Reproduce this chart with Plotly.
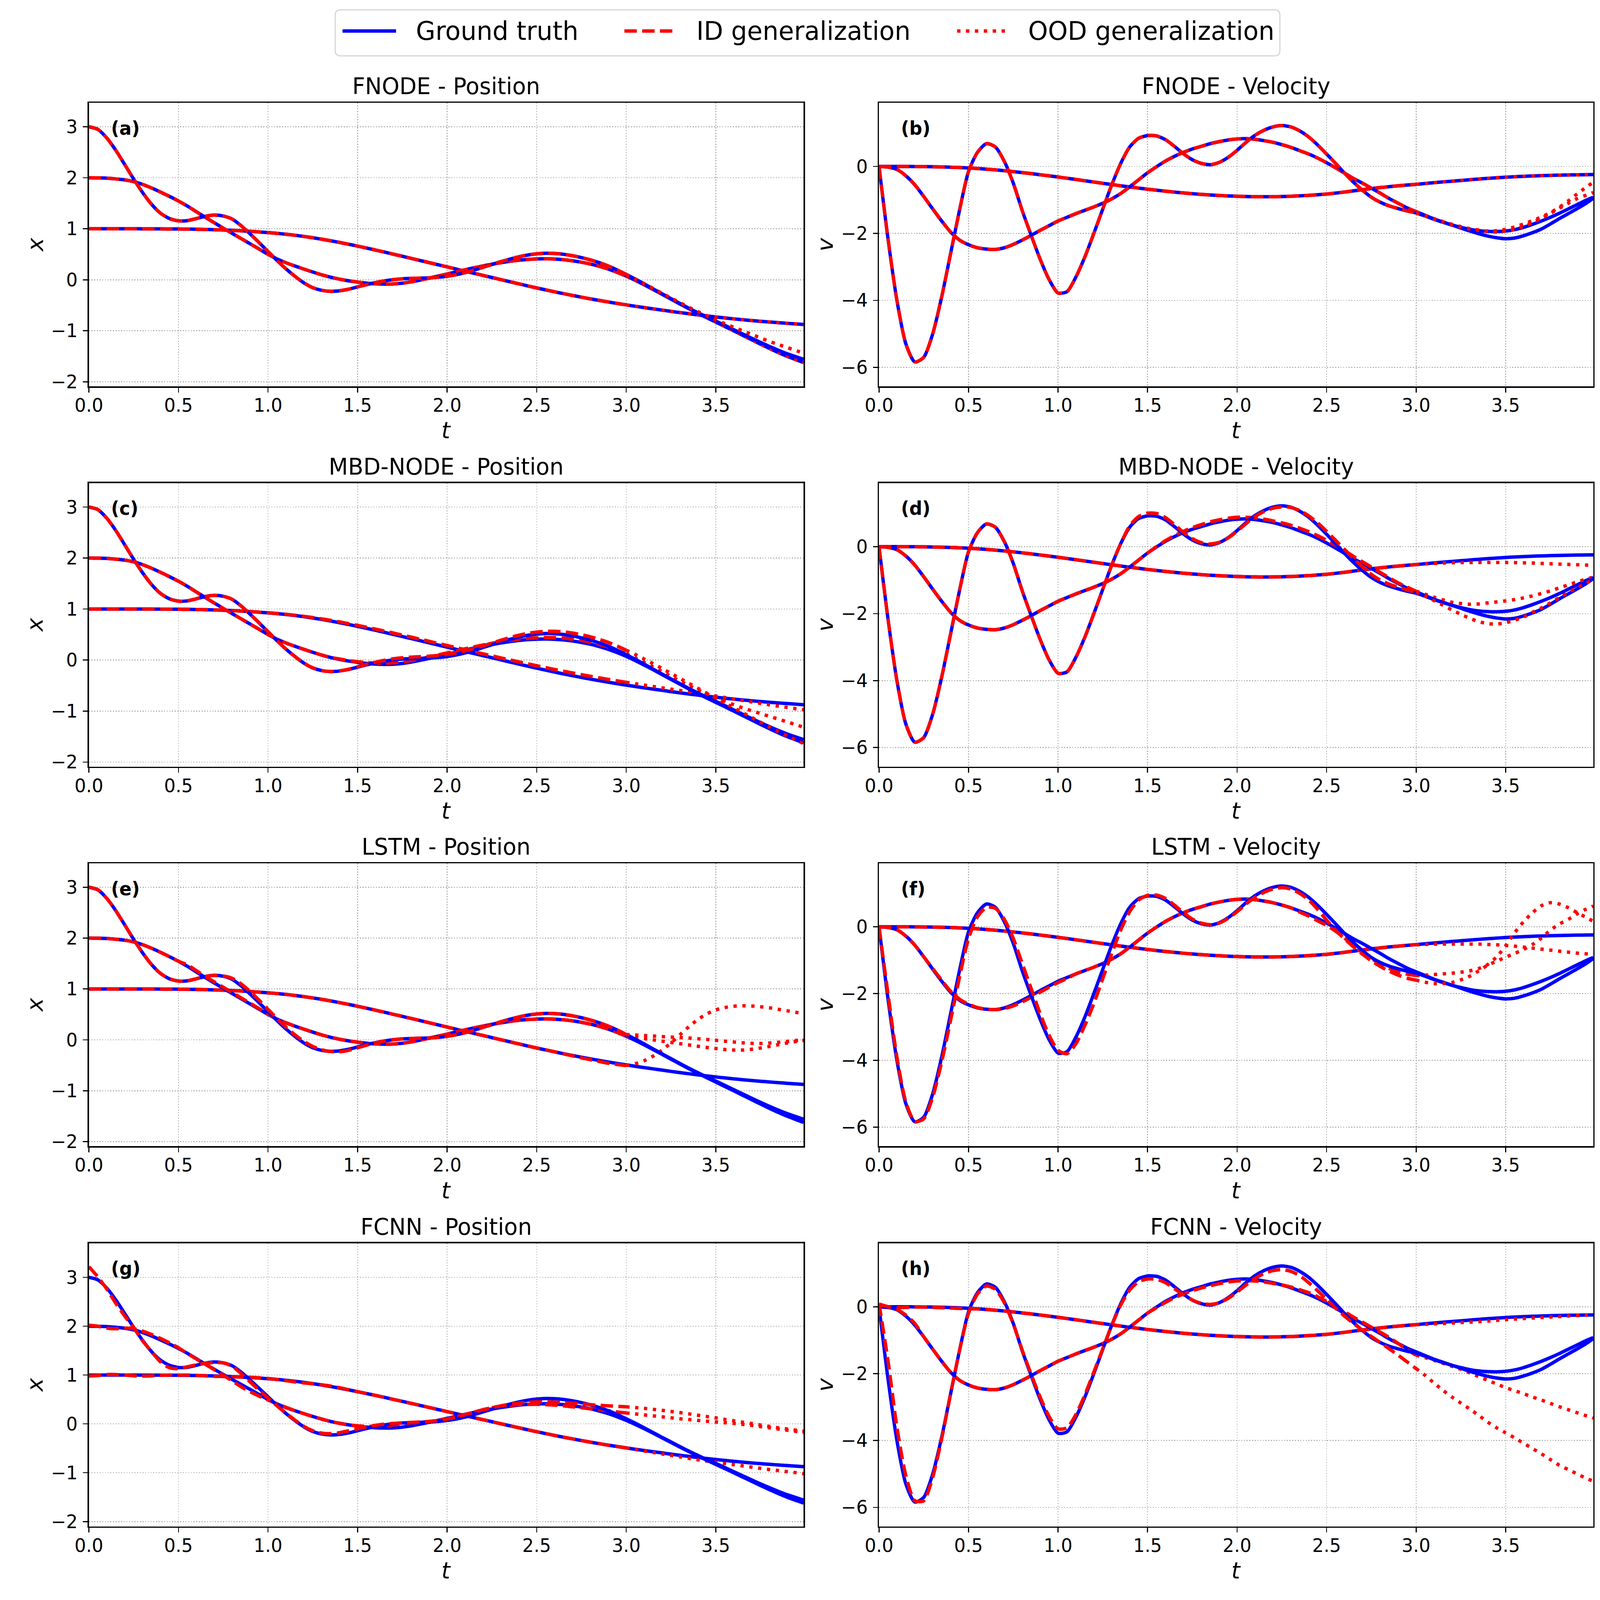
import plotly.graph_objects as go

# ---------------- data ----------------
T = [0.00, 0.05, 0.10, 0.15, 0.20, 0.25, 0.30, 0.35, 0.40, 0.45,
     0.50, 0.55, 0.60, 0.65, 0.70, 0.75, 0.80, 0.85, 0.90, 0.95,
     1.00, 1.05, 1.10, 1.15, 1.20, 1.25, 1.30, 1.35, 1.40, 1.45,
     1.50, 1.55, 1.60, 1.65, 1.70, 1.75, 1.80, 1.85, 1.90, 1.95,
     2.00, 2.05, 2.10, 2.15, 2.20, 2.25, 2.30, 2.35, 2.40, 2.45,
     2.50, 2.55, 2.60, 2.65, 2.70, 2.75, 2.80, 2.85, 2.90, 2.95,
     3.00, 3.05, 3.10, 3.15, 3.20, 3.25, 3.30, 3.35, 3.40, 3.45,
     3.50, 3.55, 3.60, 3.65, 3.70, 3.75, 3.80, 3.85, 3.90, 3.95,
     3.99]

# ground truth positions (three trajectories)
gt_x1 = [1.000, 1.000, 1.000, 1.000, 1.000, 1.000, 0.999, 0.999, 0.998, 0.997,
         0.996, 0.994, 0.991, 0.987, 0.982, 0.976, 0.969, 0.960, 0.950, 0.938,
         0.925, 0.910, 0.893, 0.873, 0.850, 0.824, 0.796, 0.765, 0.732, 0.697,
         0.660, 0.622, 0.583, 0.543, 0.502, 0.461, 0.420, 0.378, 0.336, 0.294,
         0.252, 0.210, 0.168, 0.127, 0.086, 0.045, 0.003, -0.038, -0.079, -0.120,
         -0.160, -0.198, -0.236, -0.272, -0.307, -0.341, -0.374, -0.405, -0.435, -0.464,
         -0.492, -0.519, -0.545, -0.570, -0.594, -0.620, -0.643, -0.666, -0.688, -0.709,
         -0.729, -0.748, -0.766, -0.783, -0.799, -0.814, -0.828, -0.841, -0.854, -0.866,
         -0.876]
gt_x2 = [2.000, 1.998, 1.992, 1.978, 1.958, 1.925, 1.870, 1.800, 1.720, 1.635,
         1.545, 1.445, 1.335, 1.225, 1.118, 1.013, 0.910, 0.808, 0.706, 0.603,
         0.500, 0.410, 0.335, 0.270, 0.210, 0.152, 0.097, 0.050, 0.012, -0.020,
         -0.045, -0.066, -0.080, -0.086, -0.082, -0.066, -0.040, -0.005, 0.033, 0.073,
         0.113, 0.155, 0.196, 0.235, 0.271, 0.305, 0.335, 0.362, 0.384, 0.400,
         0.409, 0.412, 0.407, 0.394, 0.373, 0.345, 0.309, 0.264, 0.210, 0.145,
         0.072, -0.010, -0.098, -0.190, -0.285, -0.380, -0.475, -0.568, -0.658, -0.745,
         -0.830, -0.915, -1.000, -1.088, -1.175, -1.262, -1.347, -1.428, -1.503, -1.570,
         -1.622]
gt_x3 = [3.000, 2.950, 2.780, 2.540, 2.260, 1.975, 1.710, 1.480, 1.305, 1.200,
         1.155, 1.160, 1.200, 1.245, 1.268, 1.250, 1.190, 1.060, 0.900, 0.730,
         0.555, 0.380, 0.215, 0.070, -0.060, -0.155, -0.207, -0.226, -0.215, -0.185,
         -0.140, -0.095, -0.055, -0.022, 0.003, 0.018, 0.027, 0.032, 0.038, 0.050,
         0.070, 0.100, 0.140, 0.190, 0.245, 0.300, 0.355, 0.405, 0.450, 0.485,
         0.508, 0.520, 0.516, 0.500, 0.472, 0.435, 0.390, 0.335, 0.270, 0.192,
         0.105, 0.015, -0.080, -0.178, -0.275, -0.370, -0.465, -0.558, -0.645, -0.730,
         -0.810, -0.893, -0.978, -1.063, -1.147, -1.228, -1.307, -1.382, -1.452, -1.512,
         -1.560]

# ground truth velocities
gt_v1 = [0.000, 0.000, 0.000, -0.001, -0.003, -0.006, -0.010, -0.016, -0.024, -0.034,
         -0.047, -0.063, -0.082, -0.104, -0.128, -0.155, -0.184, -0.215, -0.248, -0.282,
         -0.317, -0.353, -0.390, -0.428, -0.466, -0.504, -0.541, -0.578, -0.613, -0.647,
         -0.680, -0.711, -0.740, -0.767, -0.792, -0.815, -0.835, -0.853, -0.868, -0.881,
         -0.891, -0.899, -0.904, -0.906, -0.904, -0.899, -0.891, -0.879, -0.864, -0.846,
         -0.825, -0.797, -0.765, -0.730, -0.695, -0.662, -0.632, -0.604, -0.579, -0.556,
         -0.535, -0.510, -0.486, -0.463, -0.441, -0.420, -0.398, -0.377, -0.357, -0.339,
         -0.322, -0.308, -0.296, -0.285, -0.276, -0.268, -0.262, -0.256, -0.251, -0.247,
         -0.244]
gt_v2 = [0.00, -0.02, -0.09, -0.28, -0.55, -0.90, -1.27, -1.63, -1.96, -2.20,
         -2.34, -2.43, -2.47, -2.48, -2.43, -2.33, -2.20, -2.06, -1.91, -1.77,
         -1.63, -1.52, -1.41, -1.31, -1.21, -1.10, -0.97, -0.81, -0.61, -0.40,
         -0.19, -0.01, 0.16, 0.30, 0.42, 0.52, 0.60, 0.68, 0.74, 0.79,
         0.82, 0.83, 0.81, 0.77, 0.72, 0.65, 0.57, 0.47, 0.37, 0.25,
         0.11, -0.04, -0.20, -0.36, -0.50, -0.65, -0.80, -0.96, -1.10, -1.24,
         -1.35, -1.46, -1.57, -1.66, -1.75, -1.82, -1.88, -1.92, -1.94, -1.945,
         -1.93, -1.89, -1.82, -1.73, -1.63, -1.52, -1.40, -1.27, -1.14, -1.01,
         -0.92]
gt_v3 = [0.00, -2.15, -4.00, -5.30, -5.84, -5.70, -5.00, -3.90, -2.60, -1.30,
         -0.15, 0.42, 0.68, 0.58, 0.15, -0.50, -1.32, -2.06, -2.77, -3.38,
         -3.78, -3.74, -3.30, -2.70, -2.00, -1.27, -0.55, 0.09, 0.58, 0.84,
         0.92, 0.91, 0.80, 0.60, 0.38, 0.20, 0.09, 0.05, 0.12, 0.27,
         0.48, 0.72, 0.93, 1.08, 1.18, 1.22, 1.18, 1.06, 0.88, 0.64,
         0.37, 0.09, -0.20, -0.47, -0.71, -0.92, -1.07, -1.18, -1.26, -1.33,
         -1.39, -1.48, -1.58, -1.67, -1.75, -1.84, -1.93, -2.01, -2.08, -2.13,
         -2.16, -2.14, -2.07, -1.98, -1.87, -1.72, -1.56, -1.41, -1.26, -1.10,
         -0.95]

N_ID = 61  # ID generalization covers t = 0 .. 3.0, OOD covers t = 3.0 .. 3.99


def splice(base, start, values):
    out = list(base)
    out[start:start + len(values)] = values
    return out


# ---- FNODE predictions
fnode_x1_id, fnode_x1_ood = gt_x1[:N_ID], gt_x1[N_ID - 1:]
fnode_x2_id, fnode_x2_ood = gt_x2[:N_ID], gt_x2[N_ID - 1:]
fnode_x3_id = gt_x3[:N_ID]
fnode_x3_ood = [0.105, 0.018, -0.075, -0.170, -0.265, -0.358, -0.450, -0.540, -0.625, -0.705,
                -0.790, -0.860, -0.930, -1.000, -1.070, -1.140, -1.210, -1.270, -1.330, -1.390,
                -1.440]
fnode_v1_id, fnode_v1_ood = gt_v1[:N_ID], gt_v1[N_ID - 1:]
fnode_v2_id = gt_v2[:N_ID]
fnode_v2_ood = [-1.35, -1.46, -1.56, -1.65, -1.73, -1.80, -1.86, -1.90, -1.94, -1.96,
                -1.93, -1.88, -1.79, -1.68, -1.55, -1.40, -1.25, -1.10, -0.96, -0.86,
                -0.78]
fnode_v3_id = gt_v3[:N_ID]
fnode_v3_ood = [-1.39, -1.48, -1.57, -1.66, -1.74, -1.81, -1.87, -1.91, -1.93, -1.92,
                -1.88, -1.81, -1.72, -1.62, -1.51, -1.38, -1.22, -1.03, -0.82, -0.62,
                -0.47]

# ---- MBD-NODE predictions
mbd_x1_id = splice(gt_x1[:N_ID], 20, [
    0.927, 0.913, 0.897, 0.878, 0.857, 0.833, 0.807, 0.778, 0.747, 0.714,
    0.679, 0.643, 0.606, 0.568, 0.529, 0.489, 0.449, 0.408, 0.367, 0.326,
    0.285, 0.244, 0.203, 0.162, 0.122, 0.082, 0.042, 0.003, -0.036, -0.074,
    -0.112, -0.149, -0.185, -0.220, -0.254, -0.287, -0.319, -0.350, -0.380, -0.409,
    -0.437])
mbd_x1_ood = [-0.437, -0.465, -0.492, -0.519, -0.545, -0.571, -0.597, -0.623, -0.650, -0.678,
              -0.706, -0.735, -0.764, -0.793, -0.822, -0.850, -0.878, -0.905, -0.930, -0.955,
              -0.975]
mbd_x2_id = splice(gt_x2[:N_ID], 28, [
    0.020, -0.010, -0.033, -0.050, -0.060, -0.062, -0.055, -0.038, -0.012, 0.022,
    0.060, 0.100, 0.140, 0.180, 0.220, 0.258, 0.294, 0.328, 0.358, 0.385,
    0.408, 0.425, 0.436, 0.441, 0.439, 0.429, 0.411, 0.385, 0.351, 0.308,
    0.256, 0.193, 0.120])
mbd_x2_ood = [0.120, 0.040, -0.045, -0.135, -0.228, -0.320, -0.412, -0.500, -0.585, -0.665,
              -0.740, -0.810, -0.875, -0.937, -0.995, -1.050, -1.105, -1.160, -1.215, -1.270,
              -1.320]
mbd_x3_id = splice(gt_x3[:N_ID], 28, [
    -0.212, -0.180, -0.133, -0.085, -0.042, -0.005, 0.025, 0.045, 0.057, 0.065,
    0.075, 0.090, 0.112, 0.142, 0.180, 0.226, 0.278, 0.333, 0.388, 0.440,
    0.485, 0.522, 0.548, 0.562, 0.563, 0.552, 0.530, 0.498, 0.456, 0.405,
    0.345, 0.273, 0.192])
mbd_x3_ood = [0.192, 0.110, 0.022, -0.070, -0.165, -0.262, -0.360, -0.458, -0.555, -0.650,
              -0.745, -0.840, -0.935, -1.030, -1.125, -1.220, -1.315, -1.405, -1.490, -1.570,
              -1.640]
mbd_v1_id = gt_v1[:N_ID]
mbd_v1_ood = [-0.535, -0.515, -0.500, -0.490, -0.480, -0.475, -0.472, -0.470, -0.470, -0.470,
              -0.472, -0.476, -0.482, -0.490, -0.500, -0.510, -0.520, -0.530, -0.540, -0.550,
              -0.560]
mbd_v2_id = splice(gt_v2[:N_ID], 31, [
    0.00, 0.18, 0.33, 0.46, 0.57, 0.66, 0.74, 0.80, 0.85, 0.88,
    0.88, 0.86, 0.82, 0.77, 0.71, 0.64, 0.55, 0.45, 0.33, 0.19,
    0.04, -0.12, -0.29, -0.45, -0.61, -0.77, -0.93, -1.08, -1.21, -1.33])
mbd_v2_ood = [-1.33, -1.42, -1.51, -1.59, -1.66, -1.70, -1.72, -1.71, -1.68, -1.65,
              -1.62, -1.58, -1.53, -1.47, -1.40, -1.32, -1.23, -1.14, -1.05, -0.97,
              -0.91]
mbd_v3_id = splice(gt_v3[:N_ID], 28, [
    0.62, 0.90, 1.00, 0.99, 0.87, 0.66, 0.43, 0.24, 0.12, 0.08,
    0.13, 0.26, 0.46, 0.69, 0.90, 1.05, 1.15, 1.19, 1.17, 1.08,
    0.92, 0.71, 0.46, 0.19, -0.08, -0.35, -0.60, -0.83, -1.00, -1.12,
    -1.21, -1.29, -1.36])
mbd_v3_ood = [-1.36, -1.48, -1.61, -1.75, -1.89, -2.02, -2.14, -2.24, -2.30, -2.31,
              -2.27, -2.20, -2.10, -1.96, -1.83, -1.68, -1.52, -1.37, -1.22, -1.09,
              -0.98]

# ---- LSTM predictions
lstm_x1_id = splice(gt_x1[:N_ID], 51, [-0.195, -0.235, -0.275, -0.315, -0.355, -0.390,
                                        -0.425, -0.460, -0.485, -0.505])
lstm_x1_ood = [-0.505, -0.470, -0.410, -0.320, -0.200, -0.060, 0.100, 0.260, 0.400, 0.510,
               0.590, 0.635, 0.660, 0.670, 0.665, 0.650, 0.630, 0.600, 0.570, 0.540,
               0.510]
lstm_x2_id = splice(gt_x2[:N_ID], 11, [1.475, 1.360, 1.245, 1.140, 1.035, 0.930, 0.825,
                                        0.720, 0.615, 0.510])
lstm_x2_ood = [0.072, 0.050, 0.025, 0.000, -0.025, -0.050, -0.075, -0.100, -0.125, -0.150,
               -0.170, -0.190, -0.200, -0.200, -0.185, -0.160, -0.130, -0.095, -0.060, -0.030,
               -0.010]
lstm_x3_id = splice(gt_x3[:N_ID], 15, [1.255, 1.210, 1.100, 0.950, 0.780, 0.600, 0.420,
                                        0.250, 0.100, -0.030, -0.130, -0.195, -0.230, -0.235,
                                        -0.205, -0.155, -0.105, -0.060])
lstm_x3_ood = [0.105, 0.095, 0.085, 0.075, 0.065, 0.055, 0.045, 0.035, 0.022, 0.008,
               -0.008, -0.025, -0.042, -0.058, -0.068, -0.070, -0.062, -0.048, -0.030, -0.012,
               0.005]
lstm_v1_id = gt_v1[:N_ID]
lstm_v1_ood = [-0.54, -0.53, -0.52, -0.52, -0.52, -0.52, -0.52, -0.52, -0.53, -0.54,
               -0.56, -0.58, -0.61, -0.64, -0.67, -0.70, -0.73, -0.76, -0.79, -0.81,
               -0.83]
lstm_v2_id = splice(splice(gt_v2[:N_ID], 6, [
    -1.25, -1.60, -1.93, -2.17, -2.32, -2.42, -2.47, -2.48, -2.45, -2.37,
    -2.25, -2.11, -1.96, -1.81, -1.67, -1.55]), 47, [
    0.44, 0.32, 0.18, 0.04, -0.13, -0.34, -0.56, -0.77, -0.95, -1.12,
    -1.25, -1.35, -1.42, -1.46])
lstm_v2_ood = [-1.46, -1.45, -1.43, -1.41, -1.39, -1.36, -1.32, -1.25, -1.13, -0.90,
               -0.57, -0.18, 0.15, 0.42, 0.63, 0.72, 0.68, 0.57, 0.42, 0.28,
               0.16]
lstm_v3_id = [0.00, -2.00, -3.90, -5.25, -5.83, -5.75, -5.10, -4.05, -2.80, -1.50,
              -0.35, 0.30, 0.58, 0.55, 0.22, -0.35, -1.10, -1.85, -2.60, -3.25,
              -3.70, -3.80, -3.50, -2.95, -2.30, -1.55, -0.80, -0.10, 0.45, 0.80,
              0.94, 0.95, 0.85, 0.65, 0.42, 0.23, 0.11, 0.06, 0.11, 0.25,
              0.45, 0.68, 0.88, 1.03, 1.13, 1.17, 1.13, 1.00, 0.80, 0.52,
              0.20, -0.10, -0.36, -0.60, -0.82, -1.02, -1.19, -1.33, -1.45, -1.54,
              -1.60]
lstm_v3_ood = [-1.60, -1.66, -1.70, -1.70, -1.67, -1.59, -1.48, -1.32, -1.15, -1.03,
               -0.91, -0.80, -0.68, -0.53, -0.34, -0.10, 0.08, 0.22, 0.39, 0.53,
               0.62]

# ---- FCNN predictions
fcnn_x1_id = splice(gt_x1[:N_ID], 0, [
    0.980, 0.990, 1.010, 1.010, 1.000, 0.985, 0.980, 0.985, 0.995, 1.000,
    1.000, 1.000, 0.995, 0.985, 0.975, 0.970, 0.965, 0.960, 0.955, 0.945,
    0.930, 0.910, 0.885, 0.860, 0.840, 0.820, 0.800, 0.775, 0.740, 0.700,
    0.660])
fcnn_x1_ood = [-0.492, -0.525, -0.555, -0.585, -0.615, -0.645, -0.675, -0.705, -0.735, -0.760,
               -0.785, -0.810, -0.835, -0.860, -0.885, -0.910, -0.935, -0.955, -0.980, -1.000,
               -1.020]
fcnn_x2_id = [2.02, 2.00, 1.96, 1.95, 1.96, 1.95, 1.90, 1.83, 1.75, 1.66,
              1.56, 1.44, 1.33, 1.22, 1.11, 1.00, 0.88, 0.76, 0.66, 0.57,
              0.49, 0.41, 0.34, 0.27, 0.21, 0.15, 0.10, 0.05, 0.01, -0.02,
              -0.04, -0.05, -0.05, -0.04, -0.02, 0.00, 0.02, 0.03, 0.05, 0.07,
              0.10, 0.14, 0.19, 0.24, 0.29, 0.33, 0.36, 0.38, 0.395, 0.40,
              0.40, 0.395, 0.385, 0.37, 0.35, 0.33, 0.31, 0.29, 0.27, 0.245,
              0.225]
fcnn_x2_ood = [0.225, 0.205, 0.185, 0.165, 0.145, 0.125, 0.105, 0.090, 0.070, 0.055,
               0.040, 0.025, 0.010, -0.010, -0.030, -0.055, -0.080, -0.105, -0.130, -0.155,
               -0.175]
fcnn_x3_id = [3.22, 3.01, 2.76, 2.47, 2.21, 1.97, 1.70, 1.48, 1.27, 1.15,
              1.13, 1.17, 1.21, 1.24, 1.255, 1.25, 1.18, 1.03, 0.86, 0.69,
              0.53, 0.37, 0.22, 0.08, -0.05, -0.14, -0.19, -0.20, -0.18, -0.14,
              -0.10, -0.06, -0.03, -0.005, 0.01, 0.02, 0.03, 0.04, 0.05, 0.07,
              0.10, 0.14, 0.19, 0.24, 0.29, 0.33, 0.37, 0.40, 0.425, 0.44,
              0.45, 0.45, 0.445, 0.435, 0.425, 0.41, 0.395, 0.38, 0.37, 0.36,
              0.35]
fcnn_x3_ood = [0.350, 0.335, 0.318, 0.298, 0.278, 0.255, 0.232, 0.205, 0.178, 0.150,
               0.122, 0.093, 0.064, 0.035, 0.006, -0.023, -0.052, -0.080, -0.105, -0.130,
               -0.150]
fcnn_v1_id = splice(gt_v1[:N_ID], 0, [0.00, -0.02, -0.03, -0.02, -0.01, -0.01, -0.02,
                                       -0.03, -0.04, -0.05, -0.06])
fcnn_v1_ood = [-0.535, -0.525, -0.512, -0.500, -0.487, -0.474, -0.460, -0.445, -0.428, -0.408,
               -0.388, -0.368, -0.352, -0.337, -0.322, -0.307, -0.292, -0.277, -0.263, -0.251,
               -0.242]
fcnn_v2_id = splice(splice(gt_v2[:N_ID], 0, [0.08, 0.00, -0.08, -0.25, -0.50]), 31, [
    -0.03, 0.13, 0.27, 0.38, 0.48, 0.56, 0.63, 0.69, 0.74, 0.77,
    0.78, 0.77, 0.74, 0.70, 0.65, 0.59, 0.51, 0.42, 0.30, 0.16,
    0.01, -0.15, -0.31, -0.46, -0.61, -0.76, -0.92, -1.10, -1.28, -1.45])
fcnn_v2_ood = [-1.45, -1.52, -1.60, -1.69, -1.78, -1.87, -1.98, -2.09, -2.20, -2.31,
               -2.42, -2.51, -2.60, -2.70, -2.79, -2.89, -2.99, -3.08, -3.17, -3.26,
               -3.33]
fcnn_v3_id = [0.10, -1.60, -3.60, -5.05, -5.80, -5.80, -5.10, -3.95, -2.60, -1.30,
              -0.20, 0.38, 0.62, 0.52, 0.12, -0.52, -1.30, -2.02, -2.70, -3.28,
              -3.65, -3.62, -3.22, -2.63, -1.95, -1.25, -0.56, 0.05, 0.50, 0.75,
              0.83, 0.82, 0.72, 0.54, 0.36, 0.20, 0.10, 0.07, 0.12, 0.25,
              0.44, 0.65, 0.85, 0.99, 1.08, 1.11, 1.06, 0.93, 0.72, 0.48,
              0.22, -0.04, -0.28, -0.50, -0.70, -0.89, -1.07, -1.26, -1.45, -1.65,
              -1.85]
fcnn_v3_ood = [-1.85, -2.05, -2.28, -2.50, -2.70, -2.88, -3.06, -3.25, -3.45, -3.62,
               -3.77, -3.92, -4.08, -4.24, -4.40, -4.57, -4.74, -4.87, -5.00, -5.13,
               -5.22]

# titles, labels, ticks
panel_titles = ["FNODE - Position", "FNODE - Velocity", "MBD-NODE - Position", "MBD-NODE - Velocity",
                "LSTM - Position", "LSTM - Velocity", "FCNN - Position", "FCNN - Velocity"]
panel_tags = ["(a)", "(b)", "(c)", "(d)", "(e)", "(f)", "(g)", "(h)"]
legend_names = ["Ground truth", "ID generalization", "OOD generalization"]
x_tick_vals = [0.0, 0.5, 1.0, 1.5, 2.0, 2.5, 3.0, 3.5]
x_tick_text = ["0.0", "0.5", "1.0", "1.5", "2.0", "2.5", "3.0", "3.5"]
pos_tick_vals = [-2, -1, 0, 1, 2, 3]
vel_tick_vals = [-6, -4, -2, 0]

panel_series = [
    [(gt_x1, fnode_x1_id, fnode_x1_ood), (gt_x2, fnode_x2_id, fnode_x2_ood), (gt_x3, fnode_x3_id, fnode_x3_ood)],
    [(gt_v1, fnode_v1_id, fnode_v1_ood), (gt_v2, fnode_v2_id, fnode_v2_ood), (gt_v3, fnode_v3_id, fnode_v3_ood)],
    [(gt_x1, mbd_x1_id, mbd_x1_ood), (gt_x2, mbd_x2_id, mbd_x2_ood), (gt_x3, mbd_x3_id, mbd_x3_ood)],
    [(gt_v1, mbd_v1_id, mbd_v1_ood), (gt_v2, mbd_v2_id, mbd_v2_ood), (gt_v3, mbd_v3_id, mbd_v3_ood)],
    [(gt_x1, lstm_x1_id, lstm_x1_ood), (gt_x2, lstm_x2_id, lstm_x2_ood), (gt_x3, lstm_x3_id, lstm_x3_ood)],
    [(gt_v1, lstm_v1_id, lstm_v1_ood), (gt_v2, lstm_v2_id, lstm_v2_ood), (gt_v3, lstm_v3_id, lstm_v3_ood)],
    [(gt_x1, fcnn_x1_id, fcnn_x1_ood), (gt_x2, fcnn_x2_id, fcnn_x2_ood), (gt_x3, fcnn_x3_id, fcnn_x3_ood)],
    [(gt_v1, fcnn_v1_id, fcnn_v1_ood), (gt_v2, fcnn_v2_id, fcnn_v2_ood), (gt_v3, fcnn_v3_id, fcnn_v3_ood)],
]

for grp in panel_series:
    for gt, idp, ood in grp:
        assert len(gt) == len(T) and len(idp) == N_ID and len(ood) == len(T) - N_ID + 1

# ---------------- layout / style ----------------
W, H = 4770, 4682
FONT = "DejaVu Sans"
COLS = [(224, 2374), (2601, 4750)]
ROWS = [(302, 1135), (1419, 2252), (2536, 3367), (3652, 4484)]
POS_RANGE = [-2.09, 3.47]
POS_RANGE_FCNN = [-2.10, 3.70]
VEL_RANGE = [-6.57, 1.90]
LW = 10
DASH_ID = "37px,16px"
DASH_OOD = "10px,16.5px"


def X(px):
    return px / W


def Y(py):
    return 1 - py / H


fig = go.Figure()
annotations = []
shapes = []
layout = {}

for k in range(8):
    r, c = divmod(k, 2)
    xa, ya = f"x{k + 1}", f"y{k + 1}"
    for gt, idp, ood in panel_series[k]:
        fig.add_trace(go.Scatter(x=T, y=gt, mode="lines", xaxis=xa, yaxis=ya,
                                 line=dict(color="#0000ff", width=LW, shape="spline", smoothing=0.7),
                                 showlegend=False, hoverinfo="skip"))
        fig.add_trace(go.Scatter(x=T[:N_ID], y=idp, mode="lines", xaxis=xa, yaxis=ya,
                                 line=dict(color="#ff0000", width=LW, dash=DASH_ID, shape="spline", smoothing=0.7),
                                 showlegend=False, hoverinfo="skip"))
        fig.add_trace(go.Scatter(x=T[N_ID - 1:], y=ood, mode="lines", xaxis=xa, yaxis=ya,
                                 line=dict(color="#ff0000", width=LW, dash=DASH_OOD, shape="spline", smoothing=0.7),
                                 showlegend=False, hoverinfo="skip"))

    x0, x1 = COLS[c]
    y0, y1 = ROWS[r]
    is_pos = (c == 0)
    yr = (POS_RANGE_FCNN if r == 3 else POS_RANGE) if is_pos else VEL_RANGE
    common = dict(showgrid=True, gridcolor="#b0b0b0", gridwidth=3, griddash="3px,5px",
                  showline=True, linecolor="black", linewidth=3.5, mirror=True,
                  ticks="outside", ticklen=14, tickwidth=3.3, tickcolor="black",
                  tickfont=dict(family=FONT, size=54, color="black"),
                  zeroline=False)
    layout[f"xaxis{k + 1}"] = dict(domain=[X(x0), X(x1)], anchor=ya, range=[0, 3.99],
                                   tickmode="array", tickvals=x_tick_vals, ticktext=x_tick_text,
                                   ticklabelstandoff=-8, **common)
    layout[f"yaxis{k + 1}"] = dict(domain=[Y(y1), Y(y0)], anchor=xa, range=yr,
                                   tickmode="array",
                                   tickvals=pos_tick_vals if is_pos else vel_tick_vals,
                                   ticklabelstandoff=5, **common)
    cx = (x0 + x1) / 2
    # title
    annotations.append(dict(x=X(cx), y=Y(y0 - 48), xref="paper", yref="paper", text=panel_titles[k],
                            showarrow=False, xanchor="center", yanchor="middle",
                            font=dict(family=FONT, size=66.7, color="black")))
    # panel tag
    annotations.append(dict(x=X(x0 + 0.03 * (x1 - x0)), y=Y(y0 + 0.05 * (y1 - y0)), xref="paper",
                            yref="paper", text=f"<b>{panel_tags[k]}</b>", showarrow=False,
                            xanchor="left", yanchor="top",
                            font=dict(family=FONT, size=54, color="black")))
    # axis labels
    annotations.append(dict(x=X(cx), y=Y(y1 + 130), xref="paper", yref="paper", text="<i>t</i>",
                            showarrow=False, xanchor="center", yanchor="middle",
                            font=dict(family=FONT, size=66.7, color="black")))
    annotations.append(dict(x=X(x0 - 162), y=Y((y0 + y1) / 2), xref="paper", yref="paper",
                            text="<i>x</i>" if is_pos else "<i>v</i>", textangle=-90,
                            showarrow=False, xanchor="center", yanchor="middle",
                            font=dict(family=FONT, size=66.7, color="black")))

# ---------------- legend (drawn box, samples, real text) ----------------
lx0, ly0, lx1, ly1, rad = 965, 29, 3807, 164, 16
path = (f"M {X(lx0 + rad)},{Y(ly0)} L {X(lx1 - rad)},{Y(ly0)} Q {X(lx1)},{Y(ly0)} {X(lx1)},{Y(ly0 + rad)} "
        f"L {X(lx1)},{Y(ly1 - rad)} Q {X(lx1)},{Y(ly1)} {X(lx1 - rad)},{Y(ly1)} "
        f"L {X(lx0 + rad)},{Y(ly1)} Q {X(lx0)},{Y(ly1)} {X(lx0)},{Y(ly1 - rad)} "
        f"L {X(lx0)},{Y(ly0 + rad)} Q {X(lx0)},{Y(ly0)} {X(lx0 + rad)},{Y(ly0)} Z")
shapes.append(dict(type="path", path=path, xref="paper", yref="paper",
                   line=dict(color="#d6d6d6", width=3.5), fillcolor="white", layer="above"))
legend_items = [(987, 1148, "#0000ff", "solid", 1206),
                (1835, 1985, "#ff0000", DASH_ID, 2049),
                (2836, 2983, "#ff0000", DASH_OOD, 3047)]
ly = 91
for (sx0, sx1, col, dash, tx), name in zip(legend_items, legend_names):
    shapes.append(dict(type="line", xref="paper", yref="paper", x0=X(sx0), x1=X(sx1), y0=Y(ly), y1=Y(ly),
                       line=dict(color=col, width=LW, dash=dash), layer="above"))
    annotations.append(dict(x=X(tx), y=Y(ly), xref="paper", yref="paper", text=name, showarrow=False,
                            xanchor="left", yanchor="middle",
                            font=dict(family=FONT, size=75, color="black")))

fig.update_layout(width=W, height=H, margin=dict(l=0, r=0, t=0, b=0),
                  paper_bgcolor="white", plot_bgcolor="white", showlegend=False,
                  font=dict(family=FONT, color="black"),
                  annotations=annotations, shapes=shapes, **layout)

# the browser viewport can be smaller than the requested window; stretch the
# fixed-size 4770x4682 figure so that it exactly fills whatever viewport is used
FIT_SCRIPT = """
var gd = document.getElementById('{plot_id}');
document.documentElement.style.overflow = 'hidden';
document.body.style.margin = '0';
document.body.style.overflow = 'hidden';
var sx = window.innerWidth / 4770, sy = window.innerHeight / 4682;
gd.style.position = 'absolute';
gd.style.left = '0px';
gd.style.top = '0px';
gd.style.transformOrigin = '0 0';
gd.style.transform = 'scale(' + sx + ',' + sy + ')';
"""

fig.write_html("out.html", post_script=FIT_SCRIPT, config={"displayModeBar": False})
